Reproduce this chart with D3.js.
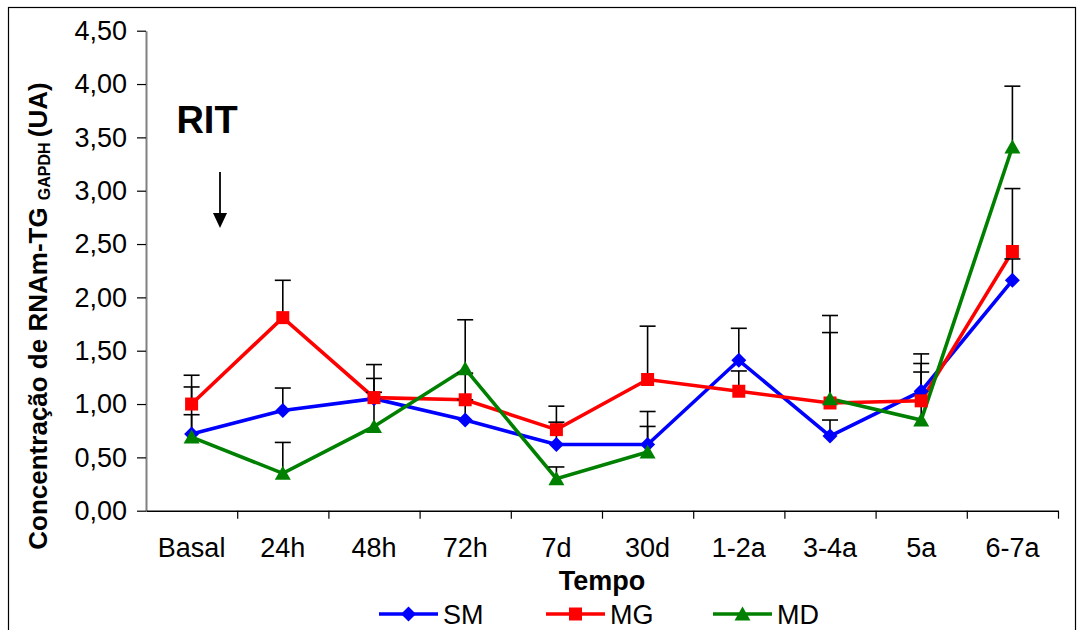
<!DOCTYPE html>
<html>
<head>
<meta charset="utf-8">
<script src="https://cdn.jsdelivr.net/npm/d3@7"></script>
<style>
  html, body { margin: 0; padding: 0; background: #fff; }
  svg { display: block; font-family: "Liberation Sans", Arial, sans-serif; }
</style>
</head>
<body>
<svg id="chart" width="1083" height="630"></svg>
<script>
// Time points after radioiodine therapy
const categories = ["Basal", "24h", "48h", "72h", "7d", "30d", "1-2a", "3-4a", "5a", "6-7a"];

// Mean TG mRNA concentration (normalised to GAPDH) per group
const smValues = [0.72, 0.94, 1.05, 0.85, 0.62, 0.62, 1.41, 0.70, 1.12, 2.16];
const mgValues = [1.00, 1.81, 1.06, 1.04, 0.76, 1.23, 1.12, 1.01, 1.03, 2.43];
const mdValues = [0.69, 0.35, 0.79, 1.33, 0.30, 0.55, null, 1.05, 0.85, 3.41];

// Upper error (standard deviation) per group
const smErrors = [0.18, 0.21, 0.19, 0.19, 0.21, 0.31, 0.30, 0.15, 0.35, 0.20];
const mgErrors = [0.27, 0.35, 0.31, 0.25, 0.22, 0.50, 0.19, 0.66, 0.35, 0.59];
const mdErrors = [0.47, 0.29, 0.32, 0.46, 0.11, 0.24, null, 0.78, 0.45, 0.57];

const seriesNames = ["SM", "MG", "MD"];
const yTickValues = [0, 0.5, 1, 1.5, 2, 2.5, 3, 3.5, 4, 4.5];

const colors = { SM: "#0000ff", MG: "#ff0000", MD: "#008000" };
const series = [
  { name: "SM", values: smValues, errors: smErrors, shape: "diamond" },
  { name: "MG", values: mgValues, errors: mgErrors, shape: "square" },
  { name: "MD", values: mdValues, errors: mdErrors, shape: "triangle" }
];

const svg = d3.select("#chart");
const plot = { left: 146, right: 1058, top: 30.7, bottom: 510.7 };

const x = d3.scaleBand().domain(categories).range([plot.left, plot.right]);
const xEdge = d3.scaleLinear().domain([0, categories.length]).range([plot.left, plot.right]);
const y = d3.scaleLinear().domain([0, 4.5]).range([plot.bottom, plot.top]);
const cx = c => x(c) + x.bandwidth() / 2;

// outer frame
svg.append("rect")
  .attr("x", 8.5).attr("y", 7.5).attr("width", 1067).attr("height", 700)
  .attr("fill", "none").attr("stroke", "#000").attr("stroke-width", 1.2);

// y axis
const fmt = v => d3.format(".2f")(v).replace(".", ",");
const yAxis = svg.append("g")
  .attr("transform", `translate(${plot.left},0)`)
  .call(d3.axisLeft(y).tickValues(yTickValues).tickFormat(fmt).tickSize(9).tickSizeOuter(0).tickPadding(10));
yAxis.select(".domain").attr("stroke", "#808080").attr("stroke-width", 2);
yAxis.selectAll(".tick line").attr("stroke", "#000").attr("stroke-width", 1.2);
yAxis.selectAll(".tick text").attr("font-size", 27).attr("fill", "#000")
  .attr("font-family", "Liberation Sans, Arial, sans-serif");

// x axis: tick marks between categories
const xTicks = svg.append("g")
  .attr("transform", `translate(0,${plot.bottom})`)
  .call(d3.axisBottom(xEdge).tickValues(d3.range(1, categories.length + 1)).tickFormat("").tickSize(8).tickSizeOuter(0));
xTicks.select(".domain").attr("stroke", "#000").attr("stroke-width", 1.5);
xTicks.selectAll(".tick line").attr("stroke", "#000").attr("stroke-width", 1.2);

// x axis: category labels
const xLabels = svg.append("g")
  .attr("transform", `translate(0,${plot.bottom})`)
  .call(d3.axisBottom(x).tickSize(0).tickPadding(27));
xLabels.select(".domain").remove();
xLabels.selectAll(".tick text").attr("font-size", 27).attr("fill", "#000")
  .attr("font-family", "Liberation Sans, Arial, sans-serif");

// axis titles
svg.append("text")
  .attr("x", 602).attr("y", 590)
  .attr("text-anchor", "middle").attr("font-size", 27).attr("font-weight", "bold")
  .text("Tempo");

const yTitle = svg.append("text")
  .attr("transform", "translate(47,316) rotate(-90)")
  .attr("text-anchor", "middle").attr("font-size", 26).attr("font-weight", "bold");
yTitle.append("tspan").text("Concentração de RNAm-TG ");
yTitle.append("tspan").attr("font-size", 16).attr("dy", 3).text("GAPDH");
yTitle.append("tspan").attr("dy", -3).attr("dx", -2).text(" (UA)");

// RIT annotation with arrow
svg.append("text")
  .attr("x", 207).attr("y", 133)
  .attr("text-anchor", "middle").attr("font-size", 38).attr("font-weight", "bold")
  .text("RIT");
svg.append("line")
  .attr("x1", 220).attr("x2", 220).attr("y1", 172).attr("y2", 214)
  .attr("stroke", "#000").attr("stroke-width", 1.8);
svg.append("path")
  .attr("d", "M213,213 L227,213 L220,228 Z")
  .attr("fill", "#000");

// marker shapes
function markerPath(shape) {
  if (shape === "diamond") return "M0,-7.5 L7.5,0 L0,7.5 L-7.5,0 Z";
  if (shape === "square") return "M-6.5,-6.5 L6.5,-6.5 L6.5,6.5 L-6.5,6.5 Z";
  return "M0,-7.5 L8,6.5 L-8,6.5 Z";
}

const line = d3.line()
  .defined(d => d.v != null)
  .x(d => cx(d.c))
  .y(d => y(d.v));

const rows = s => categories.map((c, i) => ({ c, v: s.values[i], e: s.errors[i] }));

// series lines
series.forEach(s => {
  svg.append("path")
    .datum(rows(s))
    .attr("d", line)
    .attr("fill", "none")
    .attr("stroke", colors[s.name])
    .attr("stroke-width", 3.6)
    .attr("stroke-linejoin", "miter");
});

// upper error bars
series.forEach(s => {
  const g = svg.append("g");
  const pts = rows(s).filter(d => d.v != null && d.e != null);
  g.selectAll("line.bar").data(pts).join("line")
    .attr("x1", d => cx(d.c)).attr("x2", d => cx(d.c))
    .attr("y1", d => y(d.v)).attr("y2", d => y(d.v + d.e))
    .attr("stroke", "#000").attr("stroke-width", 1.6);
  g.selectAll("line.cap").data(pts).join("line")
    .attr("x1", d => cx(d.c) - 8).attr("x2", d => cx(d.c) + 8)
    .attr("y1", d => y(d.v + d.e)).attr("y2", d => y(d.v + d.e))
    .attr("stroke", "#000").attr("stroke-width", 1.6);
});

// markers
series.forEach(s => {
  svg.append("g").selectAll("path")
    .data(rows(s).filter(d => d.v != null))
    .join("path")
    .attr("transform", d => `translate(${cx(d.c)},${y(d.v)})`)
    .attr("d", markerPath(s.shape))
    .attr("fill", colors[s.name]);
});

// legend
const legendItems = [
  { name: "SM", x0: 379 },
  { name: "MG", x0: 546 },
  { name: "MD", x0: 713 }
];
const legend = svg.append("g");
legendItems.forEach(item => {
  const s = series.find(d => d.name === item.name);
  legend.append("line")
    .attr("x1", item.x0).attr("x2", item.x0 + 59)
    .attr("y1", 614).attr("y2", 614)
    .attr("stroke", colors[item.name]).attr("stroke-width", 3.6);
  legend.append("path")
    .attr("transform", `translate(${item.x0 + 29.5},614)`)
    .attr("d", markerPath(s.shape))
    .attr("fill", colors[item.name]);
  legend.append("text")
    .attr("x", item.x0 + 64).attr("y", 624)
    .attr("font-size", 27)
    .text(item.name);
});
</script>
</body>
</html>
